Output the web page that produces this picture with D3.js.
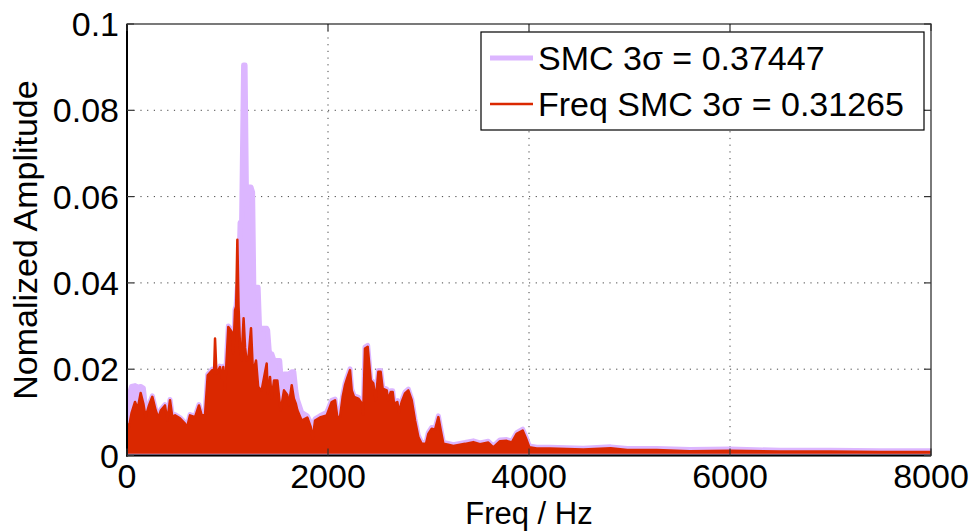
<!DOCTYPE html>
<html>
<head>
<meta charset="utf-8">
<script src="https://cdn.jsdelivr.net/npm/d3@7/dist/d3.min.js"></script>
<style>
  html, body { margin: 0; padding: 0; background: #fff; }
  svg { display: block; font-family: "Liberation Sans", Arial, Helvetica, sans-serif; }
</style>
</head>
<body>
<svg id="chart" width="972" height="531"></svg>
<script>
// Spectrum peak envelopes, sampled on a shared frequency grid (Hz)
const freqHz = [
  0, 20, 45, 80, 106, 136, 163, 185, 219, 252, 285, 312, 338, 378, 401, 428, 451, 478, 527, 577,
  594, 627, 677, 716, 743, 776, 803, 849, 866, 876, 890, 910, 925, 948, 958, 975, 1008, 1041, 1058, 1075,
  1086, 1098, 1110, 1125, 1140, 1160, 1175, 1190, 1210, 1234, 1250, 1262, 1284, 1305, 1320, 1340, 1390, 1400, 1415, 1423,
  1440, 1463, 1496, 1520, 1530, 1562, 1595, 1610, 1639, 1660, 1680, 1695, 1738, 1794, 1828, 1848, 1871, 1920, 1987, 2037,
  2070, 2093, 2120, 2146, 2169, 2192, 2219, 2236, 2259, 2302, 2335, 2350, 2368, 2395, 2425, 2451, 2475, 2501, 2524, 2544,
  2584, 2600, 2624, 2644, 2657, 2690, 2705, 2733, 2766, 2799, 2833, 2866, 2899, 2932, 2975, 2998, 3032, 3065, 3098, 3121,
  3148, 3197, 3247, 3313, 3363, 3446, 3512, 3595, 3645, 3711, 3778, 3828, 3877, 3937, 3970, 4003, 4077, 4209, 4540, 4813,
  4978, 5270, 5600, 6000, 6500, 7000, 7500, 8000
];

// SMC amplitude envelope
const smcAmp = [
  0.0124, 0.0140, 0.0160, 0.0162, 0.0158, 0.0160, 0.0156, 0.0110, 0.0118, 0.0138, 0.0107, 0.0090, 0.0107, 0.0118, 0.0084, 0.0130, 0.0092, 0.0095, 0.0088, 0.0076,
  0.0065, 0.0095, 0.0091, 0.0118, 0.0095, 0.0095, 0.0188, 0.0200, 0.0192, 0.0200, 0.0192, 0.0200, 0.0207, 0.0180, 0.0207, 0.0160, 0.0300, 0.0289, 0.0240, 0.0339,
  0.0347, 0.0390, 0.0400, 0.0540, 0.0540, 0.0905, 0.0905, 0.0580, 0.0622, 0.0622, 0.0610, 0.0390, 0.0390, 0.0390, 0.0290, 0.0295, 0.0295, 0.0290, 0.0244, 0.0236,
  0.0236, 0.0220, 0.0220, 0.0220, 0.0186, 0.0189, 0.0189, 0.0189, 0.0194, 0.0194, 0.0150, 0.0130, 0.0100, 0.0092, 0.0075, 0.0065, 0.0085, 0.0092, 0.0100, 0.0128,
  0.0131, 0.0092, 0.0094, 0.0139, 0.0166, 0.0183, 0.0201, 0.0154, 0.0139, 0.0135, 0.0124, 0.0098, 0.0251, 0.0255, 0.0177, 0.0170, 0.0131, 0.0197, 0.0197, 0.0158,
  0.0154, 0.0131, 0.0150, 0.0150, 0.0123, 0.0127, 0.0103, 0.0127, 0.0147, 0.0154, 0.0131, 0.0084, 0.0046, 0.0030, 0.0030, 0.0053, 0.0065, 0.0063, 0.0092, 0.0063,
  0.0030, 0.0028, 0.0025, 0.0028, 0.0030, 0.0034, 0.0029, 0.0033, 0.0022, 0.0036, 0.0037, 0.0033, 0.0053, 0.0061, 0.0043, 0.0022, 0.0019, 0.0019, 0.0017, 0.0020,
  0.0016, 0.0016, 0.0014, 0.0015, 0.0012, 0.0012, 0.0011, 0.0011
];

// Freq SMC amplitude envelope
const freqSmcAmp = [
  0.0074, 0.0066, 0.0098, 0.0124, 0.0108, 0.0145, 0.0120, 0.0089, 0.0116, 0.0136, 0.0105, 0.0087, 0.0105, 0.0116, 0.0081, 0.0128, 0.0089, 0.0093, 0.0086, 0.0074,
  0.0062, 0.0093, 0.0089, 0.0116, 0.0093, 0.0093, 0.0186, 0.0198, 0.0190, 0.0271, 0.0190, 0.0198, 0.0205, 0.0178, 0.0205, 0.0150, 0.0298, 0.0287, 0.0237, 0.0337,
  0.0345, 0.0500, 0.0345, 0.0250, 0.0221, 0.0318, 0.0250, 0.0220, 0.0230, 0.0295, 0.0210, 0.0198, 0.0220, 0.0159, 0.0155, 0.0151, 0.0213, 0.0144, 0.0160, 0.0182,
  0.0132, 0.0174, 0.0174, 0.0120, 0.0105, 0.0151, 0.0140, 0.0116, 0.0163, 0.0132, 0.0120, 0.0105, 0.0081, 0.0088, 0.0066, 0.0039, 0.0081, 0.0088, 0.0093, 0.0124,
  0.0128, 0.0088, 0.0090, 0.0136, 0.0163, 0.0180, 0.0198, 0.0151, 0.0136, 0.0132, 0.0121, 0.0095, 0.0248, 0.0252, 0.0174, 0.0167, 0.0128, 0.0194, 0.0194, 0.0155,
  0.0151, 0.0128, 0.0147, 0.0147, 0.0120, 0.0124, 0.0100, 0.0124, 0.0144, 0.0151, 0.0128, 0.0081, 0.0043, 0.0027, 0.0027, 0.0050, 0.0062, 0.0060, 0.0089, 0.0060,
  0.0027, 0.0025, 0.0022, 0.0025, 0.0027, 0.0031, 0.0026, 0.0030, 0.0019, 0.0033, 0.0034, 0.0030, 0.0050, 0.0058, 0.0040, 0.0019, 0.0016, 0.0016, 0.0014, 0.0017,
  0.0013, 0.0013, 0.0010, 0.0011, 0.0009, 0.0009, 0.0008, 0.0008
];

// Lowest level each trace reaches along the axis
const smcFloor = 0.0002;
const freqSmcFloor = 0.0004;

const xTicks = [0, 2000, 4000, 6000, 8000];
const yTicks = [0, 0.02, 0.04, 0.06, 0.08, 0.1];
const xTickLabels = ["0", "2000", "4000", "6000", "8000"];
const yTickLabels = ["0", "0.02", "0.04", "0.06", "0.08", "0.1"];
const seriesNames = ["SMC 3\u03c3 = 0.37447", "Freq SMC 3\u03c3 = 0.31265"];

const colors = { smc: "#dcb6ff", freq: "#da2800" };

const svg = d3.select("#chart");
const plot = { left: 127, right: 931, top: 24, bottom: 455.5 };

const x = d3.scaleLinear().domain([0, 8000]).range([plot.left, plot.right]);
const y = d3.scaleLinear().domain([0, 0.1]).range([plot.bottom, plot.top]);

// dotted grid
const grid = svg.append("g");
grid.selectAll("line.gx").data(xTicks.slice(1, -1)).join("line")
  .attr("x1", d => x(d)).attr("x2", d => x(d))
  .attr("y1", plot.top).attr("y2", plot.bottom)
  .attr("stroke", "#444").attr("stroke-width", 1).attr("stroke-dasharray", "1.2,5.5");
grid.selectAll("line.gy").data(yTicks.slice(1, -1)).join("line")
  .attr("x1", plot.left).attr("x2", plot.right)
  .attr("y1", d => y(d)).attr("y2", d => y(d))
  .attr("stroke", "#444").attr("stroke-width", 1).attr("stroke-dasharray", "1.2,5.5");

svg.append("clipPath").attr("id", "clip").append("rect")
  .attr("x", plot.left).attr("y", plot.top - 10)
  .attr("width", plot.right - plot.left).attr("height", plot.bottom - plot.top + 10);

const dataG = svg.append("g").attr("clip-path", "url(#clip)");

function drawSeries(values, floor, color, width) {
  const pts = freqHz.map((f, i) => [f, values[i]]);
  const area = d3.area().x(d => x(d[0])).y0(y(floor)).y1(d => y(d[1]));
  const line = d3.line().x(d => x(d[0])).y(d => y(d[1]));
  dataG.append("path").datum(pts).attr("d", area).attr("fill", color);
  dataG.append("path").datum(pts).attr("d", line)
    .attr("fill", "none").attr("stroke", color).attr("stroke-width", width)
    .attr("stroke-linejoin", "round").attr("stroke-linecap", "round");
}

drawSeries(smcAmp, smcFloor, colors.smc, 5);
drawSeries(freqSmcAmp, freqSmcFloor, colors.freq, 2.5);

// axes box
const axes = svg.append("g");
axes.append("rect")
  .attr("x", plot.left).attr("y", plot.top)
  .attr("width", plot.right - plot.left).attr("height", plot.bottom - plot.top)
  .attr("fill", "none").attr("stroke", "#222").attr("stroke-width", 1.2);
axes.append("line").attr("x1", plot.left).attr("x2", plot.left)
  .attr("y1", plot.top).attr("y2", plot.bottom + 1).attr("stroke", "#000").attr("stroke-width", 2);
axes.append("line").attr("x1", plot.left - 1).attr("x2", plot.right)
  .attr("y1", plot.bottom).attr("y2", plot.bottom).attr("stroke", "#000").attr("stroke-width", 2);

const tickLen = 7;
xTicks.forEach(t => {
  axes.append("line").attr("x1", x(t)).attr("x2", x(t)).attr("y1", plot.bottom).attr("y2", plot.bottom - tickLen)
    .attr("stroke", "#333").attr("stroke-width", 1.2);
  axes.append("line").attr("x1", x(t)).attr("x2", x(t)).attr("y1", plot.top).attr("y2", plot.top + tickLen)
    .attr("stroke", "#333").attr("stroke-width", 1.2);
});
yTicks.forEach(t => {
  axes.append("line").attr("x1", plot.left).attr("x2", plot.left + tickLen).attr("y1", y(t)).attr("y2", y(t))
    .attr("stroke", "#333").attr("stroke-width", 1.2);
  axes.append("line").attr("x1", plot.right).attr("x2", plot.right - tickLen).attr("y1", y(t)).attr("y2", y(t))
    .attr("stroke", "#333").attr("stroke-width", 1.2);
});

// tick labels
const fontSize = 34;
axes.selectAll("text.xt").data(xTicks).join("text")
  .attr("x", d => x(d)).attr("y", 488)
  .attr("text-anchor", "middle").attr("font-size", fontSize).attr("fill", "#000")
  .text((d, i) => xTickLabels[i]);
axes.selectAll("text.yt").data(yTicks).join("text")
  .attr("x", 119).attr("y", d => y(d) + 12)
  .attr("text-anchor", "end").attr("font-size", fontSize).attr("fill", "#000")
  .text((d, i) => yTickLabels[i]);

// axis titles
svg.append("text").attr("x", x(4000)).attr("y", 524)
  .attr("text-anchor", "middle").attr("font-size", 31).text("Freq / Hz");
svg.append("text").attr("transform", "translate(37,240) rotate(-90)")
  .attr("text-anchor", "middle").attr("font-size", fontSize).text("Nomalized Amplitude");

// legend
const leg = svg.append("g");
leg.append("rect").attr("x", 481).attr("y", 32).attr("width", 443).attr("height", 98)
  .attr("fill", "#fff").attr("stroke", "#000").attr("stroke-width", 1.2);
const legRows = [
  { name: seriesNames[0], color: colors.smc, w: 5, cy: 58 },
  { name: seriesNames[1], color: colors.freq, w: 2.5, cy: 104 }
];
legRows.forEach(r => {
  leg.append("line").attr("x1", 490).attr("x2", 533).attr("y1", r.cy).attr("y2", r.cy)
    .attr("stroke", r.color).attr("stroke-width", r.w);
  leg.append("text").attr("x", 538).attr("y", r.cy + 12)
    .attr("font-size", fontSize).attr("fill", "#000").text(r.name);
});
</script>
</body>
</html>
